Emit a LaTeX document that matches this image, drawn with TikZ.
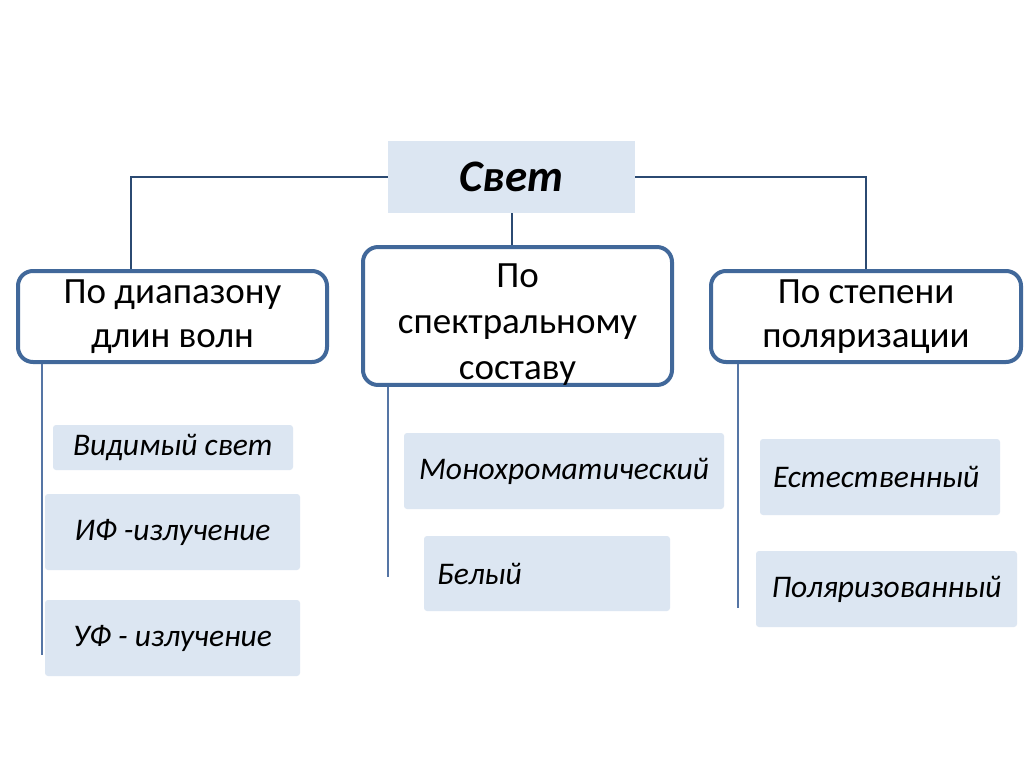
\documentclass[tikz,border=0pt]{standalone}
\usepackage{fontspec}
\setmainfont{Carlito}
\definecolor{boxfill}{HTML}{DCE6F2}
\definecolor{boxline}{HTML}{41689A}
\definecolor{conn}{HTML}{2B4A72}
\definecolor{vline}{HTML}{5575A5}
\tikzset{
  rootbox/.style={fill=boxfill, draw=none, inner sep=0pt, font=\fontsize{45}{50}\selectfont\bfseries\itshape},
  catbox/.style={draw=boxline, line width=4pt, rounded corners=15pt, fill=white, inner sep=0pt, align=center, font=\fontsize{37}{44}\selectfont},
  leafbox/.style={fill=boxfill, draw=none, rounded corners=3pt, inner sep=0pt, font=\fontsize{31.5}{36}\selectfont\itshape},
  connline/.style={draw=conn, line width=2pt},
  branchline/.style={draw=vline, line width=2pt}
}
\begin{document}
\begin{tikzpicture}[x=1pt,y=-1pt]
\useasboundingbox[fill=white] (0,0) rectangle (1024,767);
\node[rootbox, minimum width=247pt, minimum height=72pt] (svet) at (511.5,177) {Свет};
\node[catbox, minimum width=309pt, minimum height=91pt] (left) at (172.5,316.5) {По диапазону\\длин волн};
\node[catbox, minimum width=309pt, minimum height=132pt, font=\fontsize{37}{46}\selectfont] (mid) at (517.5,316) {\rule{0pt}{40pt}По\\спектральному\\составу};
\node[catbox, minimum width=310pt, minimum height=91pt] (right) at (866,316.5) {По степени\\поляризации};

\node[leafbox, minimum width=240pt, minimum height=45pt] (vis) at (173,447.5) {Видимый свет};
\node[leafbox, minimum width=255pt, minimum height=76pt] (ir) at (172.5,532) {ИФ -излучение};
\node[leafbox, minimum width=255pt, minimum height=76pt] (uv) at (172.5,638) {УФ - излучение};
\node[leafbox, minimum width=320pt, minimum height=76pt] (mono) at (564,471) {Монохроматический};
\node[leafbox, inner xsep=13pt, text width=220pt, align=left, minimum height=75pt] (white) at (547,573.5) {Белый};
\node[leafbox, inner xsep=13pt, text width=214pt, align=left, minimum height=76pt] (nat) at (880,477) {Естественный};
\node[leafbox, minimum width=261pt, minimum height=76pt] (pol) at (886.5,589) {Поляризованный};

\coordinate (lbend) at (131,177);
\coordinate (lend) at (42,655);
\coordinate (mend) at (388,577);
\coordinate (rend) at (738,608);

\draw[connline] (svet.west) -- (lbend) -- (lbend |- left.north);
\draw[connline] (svet.east) -| (right.north);
\draw[connline] (svet.south) -- (svet.south |- mid.north);

\draw[branchline] (lend |- left.south) -- (lend);
\draw[branchline] (mend |- mid.south) -- (mend);
\draw[branchline] (rend |- right.south) -- (rend);
\end{tikzpicture}
\end{document}
